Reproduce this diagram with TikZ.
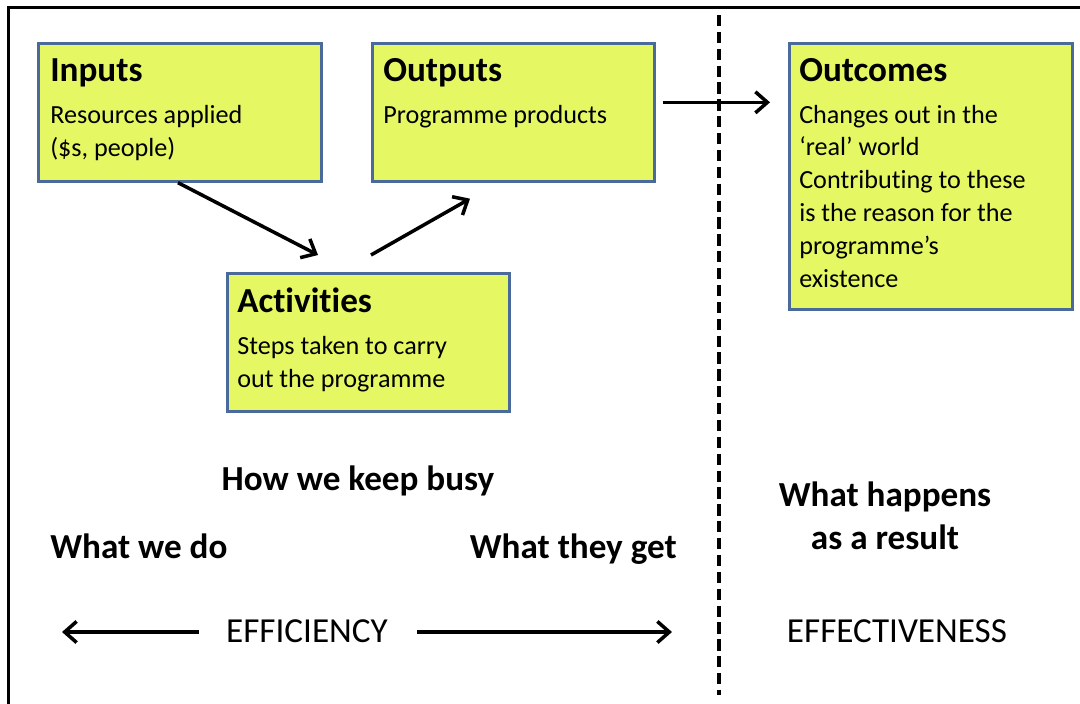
\documentclass[tikz,border=0pt]{standalone}
\usepackage{fontspec}
\setmainfont{Carlito}[Ligatures=NoCommon]
\usetikzlibrary{arrows.meta}
\newlength\pxl \setlength\pxl{0.025cm}
\definecolor{boxfill}{RGB}{229,248,100}
\definecolor{boxline}{RGB}{74,106,156}
\begin{document}
\begin{tikzpicture}[x=0.025cm,y=-0.025cm,
  box/.style={draw=boxline, fill=boxfill, line width=1.9pt, rectangle, anchor=north west, inner sep=0pt},
  ttl/.style={font=\fontsize{25}{30}\selectfont\bfseries, anchor=base west, inner sep=0pt},
  bodytxt/.style={font=\fontsize{18.6}{23.3}\selectfont, anchor=base west, align=left, inner sep=0pt},
  lbl/.style={font=\fontsize{25}{30}\selectfont\bfseries, inner sep=0pt, anchor=base},
  captxt/.style={font=\fontsize{25}{30}\selectfont, inner sep=0pt, anchor=base},
  arr/.style={-{Straight Barb[length=8.5pt,width=15pt]}, line width=2.5pt},
  divider/.style={line width=2.3pt, dash pattern=on 8pt off 4pt},
  frame/.style={line width=2.4pt}
]
\useasboundingbox (0,0) rectangle (1080,704);
\draw[frame] (8.5,720) -- (8.5,7.5) -- (1100,7.5);
\draw[divider] (719,15) -- (719,695);

% boxes
\node[box, minimum width=283\pxl, minimum height=138\pxl] (inputs) at (37,42) {};
\node[box, minimum width=282\pxl, minimum height=138\pxl] (outputs) at (371,42) {};
\node[box, minimum width=283\pxl, minimum height=266\pxl] (outcomes) at (788,42) {};
\node[box, minimum width=282\pxl, minimum height=138\pxl] (activities) at (226,272) {};

% box texts (base anchor of a multi-line node = its last line)
\node[ttl] (inputsT) at (50,81) {Inputs};
\node[bodytxt] (inputsB) at (50,156) {Resources applied\\(\$s, people)};
\node[ttl] (outputsT) at (383,81) {Outputs};
\node[bodytxt] (outputsB) at (383,123) {Programme products};
\node[ttl] (outcomesT) at (799,81) {Outcomes};
\node[bodytxt] (outcomesB) at (799,287) {Changes out in the\\‘real’ world\\Contributing to these\\is the reason for the\\programme’s\\existence};
\node[ttl] (activitiesT) at (237,312) {Activities};
\node[bodytxt] (activitiesB) at (237,387) {Steps taken to carry\\out the programme};

% connectors
\draw[arr] ([shift={(141,0)}]inputs.south west) -- ([shift={(92,-17)}]activities.north west);
\draw[arr] ([shift={(145,-17)}]activities.north west) -- ([shift={(99,16)}]outputs.south west);
\draw[arr] ([shift={(7,-10)}]outputs.east) -- ([shift={(-18,-10)}]outputs.east -| outcomes.west);

% labels
\node[lbl] (busy) at (358,490) {How we keep busy};
\node[lbl, anchor=base west] (wedo) at (50,558) {What we do};
\node[lbl, anchor=base east] (theyget) at (677,558) {What they get};
\node[lbl, align=center] (happens) at (885,549) {What happens\\as a result};
\node[captxt] (eff) at (307,642) {EFFICIENCY};
\node[captxt] (effect) at (897,642) {EFFECTIVENESS};

\coordinate (effL) at (62,632);
\coordinate (effR) at (672,632);
\draw[arr] ([shift={(-27,0)}]eff.west |- effL) -- (effL);
\draw[arr] ([shift={(29,0)}]eff.east |- effR) -- (effR);
\end{tikzpicture}
\end{document}
